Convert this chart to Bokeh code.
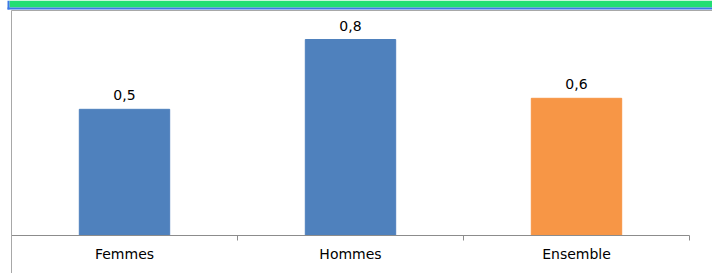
from bokeh.plotting import figure
from bokeh.models import ColumnDataSource, Range1d, LabelSet, BoxAnnotation
from bokeh.core.properties import value
from bokeh.embed import file_html
from bokeh.resources import INLINE

categories = ["Femmes", "Hommes", "Ensemble"]
values = [0.515, 0.80, 0.56]
bar_colors = ["#4F81BD", "#4F81BD", "#F79646"]
value_labels = [f"{v:.1f}".replace(".", ",") for v in values]

n = len(categories)
xpos = [i + 0.5 for i in range(n)]
src = ColumnDataSource(dict(x=xpos, top=values, base=[0] * n, color=bar_colors,
                            label=value_labels, cat=categories))

# pixel geometry of the plot area
W, H = 712, 273
PX_LEFT, PX_RIGHT, PX_BASE = 11, 689, 235
UX = (PX_RIGHT - PX_LEFT) / n      # px per category
UY = 245.0                          # px per unit value

def xpx(px):
    return (px - PX_LEFT) / UX

def ypx(py):
    return (PX_BASE - py) / UY

p = figure(width=W, height=H, output_backend="svg", toolbar_location=None,
           x_range=Range1d(xpx(0), xpx(W)), y_range=Range1d(ypx(H), ypx(0)),
           x_axis_location=None, y_axis_location=None,
           min_border=0)
p.grid.visible = False
p.outline_line_color = None
p.background_fill_color = "white"
p.border_fill_color = "white"

AXIS = "#8C8C8C"
FONT = value("DejaVu Sans")

p.vbar(x="x", top="top", width=0.4, color="color", source=src)

# category axis: baseline, boundary ticks, labels
p.segment(x0=0, y0=0, x1=n, y1=0, line_color=AXIS, line_width=1)
p.ray(x=list(range(n + 1)), y=[0] * (n + 1), length=5, length_units="screen",
      angle=-90, angle_units="deg", line_color=AXIS, line_width=1)
p.add_layout(LabelSet(x="x", y="base", text="cat", source=src, y_offset=-23,
                      text_align="center", text_baseline="alphabetic",
                      text_font=FONT, text_font_size="14px", text_color="#000000"))

# value labels
p.add_layout(LabelSet(x="x", y="top", text="label", source=src, y_offset=9,
                      text_align="center", text_baseline="alphabetic",
                      text_font=FONT, text_font_size="14px", text_color="#000000"))

def box(color, left=None, right=None, top=None, bottom=None):
    kw = dict(fill_color=color, fill_alpha=1, line_alpha=0, level="overlay")
    if left is not None: kw["left"] = left
    if right is not None: kw["right"] = right
    if top is not None: kw["top"] = top
    if bottom is not None: kw["bottom"] = bottom
    return BoxAnnotation(**kw)

# chart-area border (left and top) and green title banner
p.add_layout(box("#A8A8A8", left=xpx(10.5), right=xpx(11.5), top=ypx(10)))
p.add_layout(box("#A8A8A8", left=xpx(11), top=ypx(9.5), bottom=ypx(10.5)))
p.add_layout(box("#22DE73", left=xpx(9), bottom=ypx(7)))
p.add_layout(box("#3C78E6", left=xpx(7), top=ypx(7), bottom=ypx(9)))
p.add_layout(box("#3C78E6", left=xpx(7), right=xpx(9), bottom=ypx(9)))

open("out.html", "w").write(file_html(p, INLINE))
